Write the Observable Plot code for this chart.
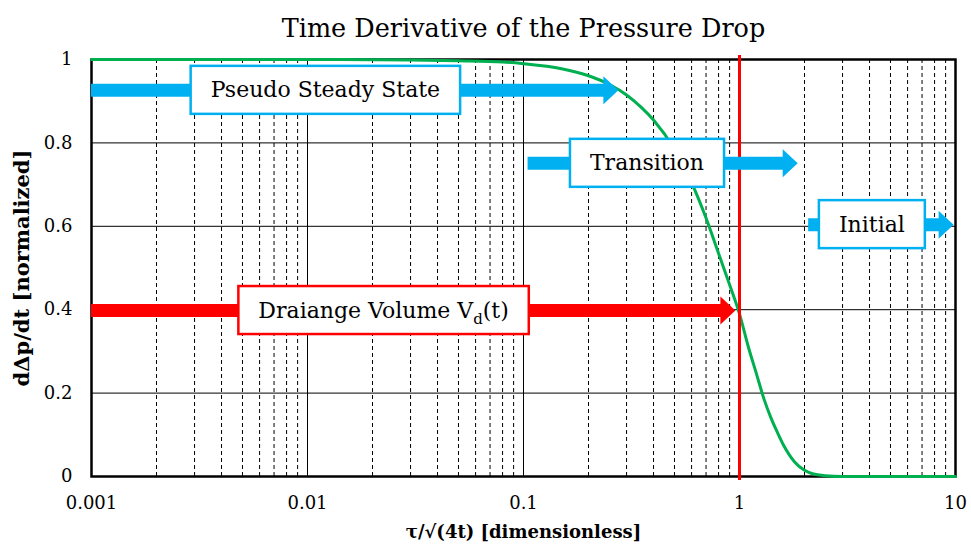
<!DOCTYPE html>
<html>
<head>
<meta charset="utf-8">
<script src="https://cdn.jsdelivr.net/npm/d3@7"></script>
<script src="https://cdn.jsdelivr.net/npm/@observablehq/plot@0.6"></script>
<style>
  body { margin: 0; background: #fff; }
  #chart svg, #chart svg text { font-family: "DejaVu Serif", serif !important; }
</style>
</head>
<body>
<div id="chart"></div>
<script>
// ---- data ----
const tau = [0.001, 0.01, 0.03, 0.05, 0.08, 0.1, 0.15, 0.2, 0.25, 0.3, 0.35, 0.4, 0.5, 0.6, 0.7, 0.8, 0.9, 1.0, 1.1, 1.2, 1.3, 1.4, 1.5, 1.6, 1.8, 2.0, 2.2, 2.5, 3, 5, 10];
const deriv = [1, 1, 0.999, 0.997, 0.994, 0.99, 0.978, 0.961, 0.94, 0.915, 0.886, 0.855, 0.785, 0.705, 0.62, 0.535, 0.46, 0.39, 0.31, 0.245, 0.185, 0.14, 0.105, 0.075, 0.035, 0.015, 0.006, 0.002, 0, 0, 0];

const xTicks = [0.001, 0.01, 0.1, 1, 10];
const yTicks = [0, 0.2, 0.4, 0.6, 0.8, 1];
const drainageX = 1;

const phaseLabels = ["Pseudo Steady State", "Transition", "Initial", "Draiange Volume V_d(t)"];
const phaseKinds = ["regime", "regime", "regime", "drainage"];
const phaseY = [0.926, 0.751, 0.604, 0.398];
const phaseStart = [0.001, 0.105, 2.09, 0.001];
const phaseTip = [0.275, 1.86, 9.8, 0.957];
const phaseLabelX = [0.0121, 0.373, 4.10, 0.0225];

const titleText = "Time Derivative of the Pressure Drop";
const xLabel = "τ/√(4t) [dimensionless]";
const yLabel = "dΔp/dt [normalized]";

// ---- build tables ----
const curve = tau.map((t, i) => ({tau: t, d: deriv[i]}));
const phases = phaseLabels.map((label, i) => ({
  label, kind: phaseKinds[i], y: phaseY[i], start: phaseStart[i], tip: phaseTip[i], lx: phaseLabelX[i]
}));

const blue = "#00b0f0";
const red = "#ff0000";
const serif = "DejaVu Serif";

const logTicks = d3.scaleLog().domain([0.001, 10]).ticks();
const minorTicks = logTicks.filter(t => Math.abs(Math.log10(t) - Math.round(Math.log10(t))) > 1e-6);
const majorTicks = xTicks.filter(t => t > 0.001 && t < 10 && t !== drainageX);
const hGrid = yTicks.filter(t => t > 0 && t < 1);

const arrowHead = {
  draw(ctx) {
    ctx.moveTo(0, 0);
    ctx.lineTo(-15, -14);
    ctx.lineTo(-15, 14);
    ctx.closePath();
  }
};

const plot = Plot.plot({
  width: 971,
  height: 554,
  marginLeft: 91,
  marginRight: 16,
  marginTop: 59,
  marginBottom: 78,
  style: {fontFamily: serif, fontSize: "18px", color: "#000", background: "#fff"},
  x: {type: "log", domain: [0.001, 10], ticks: xTicks, tickFormat: d => String(d), tickSize: 0, tickPadding: 20, label: null},
  y: {domain: [0, 1], ticks: yTicks, tickFormat: d => String(d), tickSize: 0, tickPadding: 19, label: null},
  color: {domain: ["regime", "drainage"], range: [blue, red]},
  marks: [
    Plot.ruleX(minorTicks, {stroke: "#000", strokeWidth: 1, strokeDasharray: "4,3"}),
    Plot.ruleX(majorTicks, {stroke: "#000", strokeWidth: 1}),
    Plot.ruleY(hGrid, {stroke: "#000", strokeWidth: 1}),
    Plot.frame({stroke: "#000", strokeWidth: 2.5}),
    Plot.line(curve, {x: "tau", y: "d", stroke: "#00b050", strokeWidth: 3, curve: "monotone-x"}),
    Plot.ruleX([drainageX], {stroke: red, strokeWidth: 3, insetTop: -4, insetBottom: -4}),
    Plot.ruleY(phases, {y: "y", x1: "start", x2: "tip", stroke: "kind", strokeWidth: 13, insetRight: 12}),
    Plot.dot(phases, {x: "tip", y: "y", fill: "kind", symbol: arrowHead, r: 10}),
    Plot.text(phases, {x: "lx", y: "y", text: "label", fontSize: 22, fontFamily: serif, fill: "#000"}),
    Plot.text([titleText], {frameAnchor: "top", dy: -41, fontSize: 25.5, fontFamily: serif, fill: "#000"}),
    Plot.text([xLabel], {frameAnchor: "bottom", dy: 61, fontSize: 18, fontFamily: serif, fontWeight: "bold", fill: "#000"}),
    Plot.text([yLabel], {frameAnchor: "left", textAnchor: "middle", dx: -69, rotate: -90, fontSize: 21, fontFamily: serif, fontWeight: "bold", fill: "#000"})
  ]
});

document.getElementById("chart").append(plot);

// ---- label boxes (sized to the rendered text) and subscript ----
const NS = "http://www.w3.org/2000/svg";
const colorScale = plot.scale("color");
const yScale = plot.scale("y");
const svgRect = plot.getBoundingClientRect();
const allTexts = Array.from(plot.querySelectorAll("text"));
let boxes = null;
phases.forEach(p => {
  const el = allTexts.find(t => t.textContent === p.label);
  if (!el) return;
  const group = el.parentNode;
  if (!boxes) {
    boxes = document.createElementNS(NS, "g");
    group.parentNode.insertBefore(boxes, group);
  }
  if (p.label.includes("_")) {
    const [pre, rest] = p.label.split("_");
    const sub = rest.charAt(0), post = rest.slice(1);
    el.textContent = "";
    const t1 = document.createElementNS(NS, "tspan");
    t1.textContent = pre;
    const t2 = document.createElementNS(NS, "tspan");
    t2.textContent = sub; t2.setAttribute("dy", "6"); t2.setAttribute("font-size", "15");
    const t3 = document.createElementNS(NS, "tspan");
    t3.textContent = post; t3.setAttribute("dy", "-6");
    el.append(t1, t2, t3);
  }
  const r = el.getBoundingClientRect();
  const cy = yScale && yScale.apply ? yScale.apply(p.y) : (r.top + r.bottom) / 2 - svgRect.top;
  const padX = 20, h = 48;
  const rect = document.createElementNS(NS, "rect");
  rect.setAttribute("x", r.left - svgRect.left - padX);
  rect.setAttribute("y", cy - h / 2);
  rect.setAttribute("width", r.width + 2 * padX);
  rect.setAttribute("height", h);
  rect.setAttribute("fill", "#fff");
  rect.setAttribute("stroke", colorScale.apply(p.kind));
  rect.setAttribute("stroke-width", 2.5);
  boxes.append(rect);
});
</script>
</body>
</html>
